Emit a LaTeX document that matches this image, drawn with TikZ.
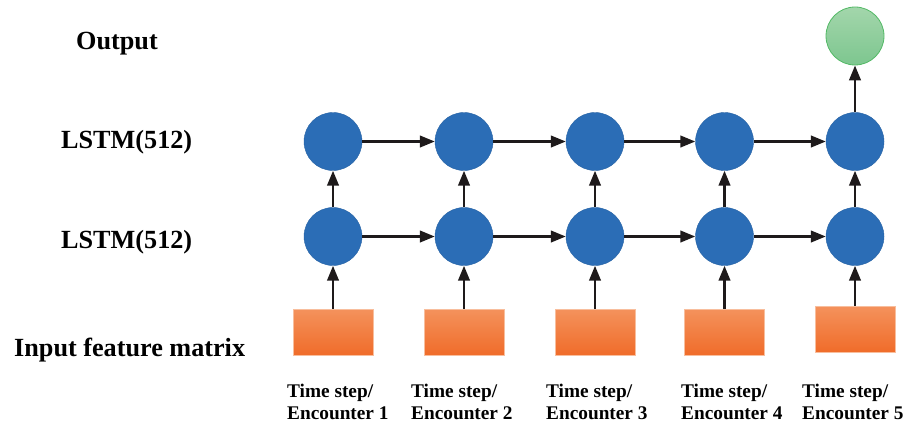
\documentclass[tikz,border=0pt]{standalone}
\usepackage{fontspec}
\setmainfont{Liberation Serif}
\usetikzlibrary{arrows.meta}
\definecolor{cellblue}{HTML}{2B6DB6}
\definecolor{outtop}{HTML}{A3D6AB}
\definecolor{outbot}{HTML}{7DC68F}
\definecolor{outline}{HTML}{52B965}
\definecolor{intop}{HTML}{F4925C}
\definecolor{inbot}{HTML}{F06C2A}
\definecolor{arr}{HTML}{1E1A1B}
\tikzset{
  cell/.style={circle, fill=cellblue, draw=cellblue!90!black, line width=0.4pt, minimum size=58pt, inner sep=0pt},
  outcell/.style={circle, top color=outtop, bottom color=outbot, draw=outline, line width=0.8pt, minimum size=58pt, inner sep=0pt},
  inbox/.style={rectangle, top color=intop, bottom color=inbot, draw=intop!60!white, line width=0.4pt, minimum width=80pt, minimum height=46pt, inner sep=0pt},
  conn/.style={draw=arr, line width=2.6pt, -{Triangle[length=15pt,width=11.5pt]}},
  rowlabel/.style={font=\fontsize{26.2}{30}\selectfont\bfseries, anchor=base west, inner sep=0pt},
  steplabel/.style={font=\fontsize{19.3}{23}\selectfont\bfseries, anchor=north west, inner sep=0pt, align=left}
}
\begin{document}
\begin{tikzpicture}[x=1pt,y=-1pt]
\useasboundingbox (0,0) rectangle (904,428);
% labels
\node[rowlabel] (lout) at (76,50) {Output};
\node[rowlabel] (l2) at (61,148) {LSTM(512)};
\node[rowlabel] (l1) at (61,248) {LSTM(512)};
\node[rowlabel] (lin) at (14,356) {Input feature matrix};
% output
\node[outcell] (out) at (855,36) {};
% columns
\foreach \i/\x/\ry/\tx in {1/333/332/287, 2/464/332/411, 3/595/332/546, 4/724.5/332/681, 5/855/329/802}{
  \node[cell] (b\i) at (\x,236.5) {};
  \node[cell] (t\i) at (\x,141.5) {};
  \node[inbox] (in\i) at (\x,\ry) {};
  \node[steplabel] (ts\i) at (\tx,384) {Time step/\\[-1pt]Encounter \i};
}
\foreach \i in {1,...,5}{
  \draw[conn] (in\i) -- (b\i);
  \draw[conn] (b\i) -- (t\i);
}
\foreach \i/\j in {1/2,2/3,3/4,4/5}{
  \draw[conn] (b\i) -- (b\j);
  \draw[conn] (t\i) -- (t\j);
}
\draw[conn] (t5) -- (out);
\end{tikzpicture}
\end{document}
